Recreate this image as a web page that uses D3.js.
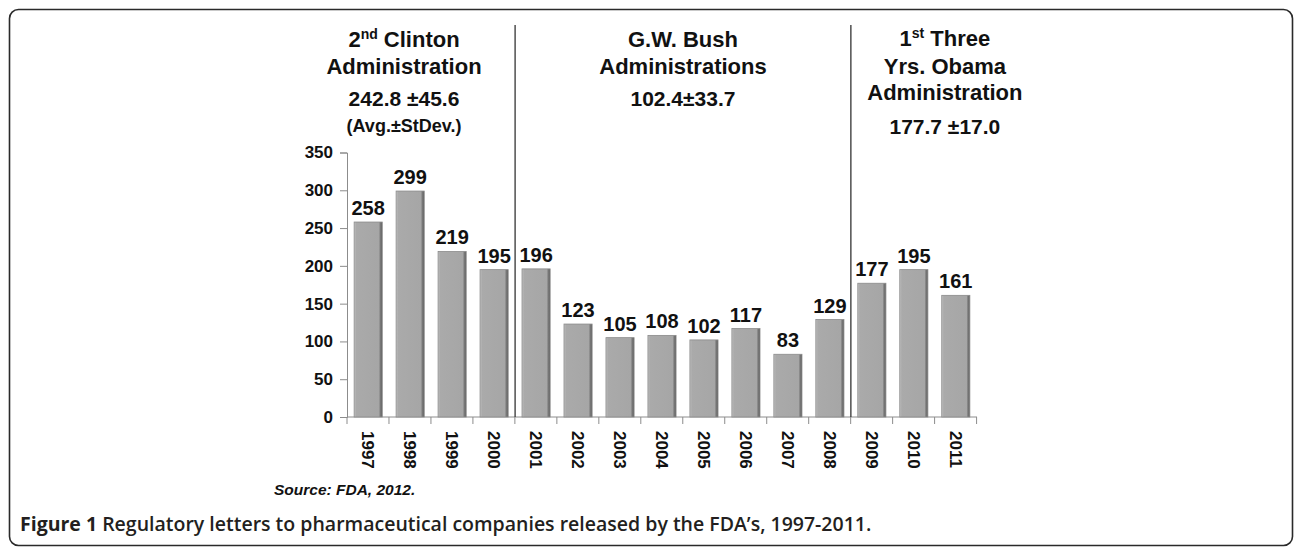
<!DOCTYPE html>
<html>
<head>
<meta charset="utf-8">
<script src="https://cdn.jsdelivr.net/npm/d3@7"></script>
<style>
    body { margin: 0; background: #fff; }
    text { font-family: "Liberation Sans", Arial, sans-serif; }
</style>
</head>
<body>
<div id="chart"></div>
<script>
// data
const years = ["1997", "1998", "1999", "2000", "2001", "2002", "2003", "2004",
    "2005", "2006", "2007", "2008", "2009", "2010", "2011"];
const letters = [258, 299, 219, 195, 196, 123, 105, 108, 102, 117, 83, 129, 177, 195, 161];
const yTicks = [0, 50, 100, 150, 200, 250, 300, 350];
// year where each administration starts (divider goes before it)
const dividers = ["2001", "2009"];
const clintonLines = ["Administration", "242.8 ±45.6", "(Avg.±StDev.)"];
const bushLines = ["G.W. Bush", "Administrations", "102.4±33.7"];
const obamaLines = ["Yrs. Obama", "Administration", "177.7 ±17.0"];
const sourceNote = "Source: FDA, 2012.";
const captionBold = "Figure 1";
const captionText = " Regulatory letters to pharmaceutical companies released by the FDA\u2019s, 1997-2011.";

const W = 1295, H = 551;
const plot = { left: 347, right: 977, top: 152.5, bottom: 417 };

const svg = d3.select("#chart").append("svg")
    .attr("width", W)
    .attr("height", H);

// outer frame
svg.append("rect")
    .attr("x", 9.5).attr("y", 9.5)
    .attr("width", 1283).attr("height", 536)
    .attr("rx", 9)
    .attr("fill", "none")
    .attr("stroke", "#2a2a2a")
    .attr("stroke-width", 1.6);

const x = d3.scaleBand()
    .domain(years)
    .range([plot.left, plot.right])
    .paddingInner(0.33)
    .paddingOuter(0.17);

const y = d3.scaleLinear()
    .domain([0, 350])
    .range([plot.bottom, plot.top]);

// bar shading, lighter left edge and darker right edge
const grad = svg.append("defs").append("linearGradient")
    .attr("id", "barGrad")
    .attr("x1", "0").attr("x2", "1").attr("y1", "0").attr("y2", "0");
grad.append("stop").attr("offset", "0").attr("stop-color", "#c4c4c4");
grad.append("stop").attr("offset", "0.07").attr("stop-color", "#aaaaaa");
grad.append("stop").attr("offset", "0.88").attr("stop-color", "#a6a6a6");
grad.append("stop").attr("offset", "0.93").attr("stop-color", "#7a7a7a");
grad.append("stop").attr("offset", "1").attr("stop-color", "#5e5e5e");

// y axis
const yAxis = svg.append("g")
    .attr("transform", "translate(" + plot.left + ",0)")
    .call(d3.axisLeft(y).tickValues(yTicks).tickSize(7).tickPadding(7));
yAxis.select(".domain").attr("stroke", "#8c8c8c");
yAxis.selectAll(".tick line").attr("stroke", "#8c8c8c");
yAxis.selectAll(".tick text")
    .attr("fill", "#111")
    .style("font-size", "17px")
    .style("font-weight", "bold");

// x axis line + boundary ticks
const step = x.step();
const boundaries = d3.range(years.length + 1).map((i) => plot.left + i * step);
svg.append("line")
    .attr("x1", plot.left).attr("x2", plot.right)
    .attr("y1", plot.bottom).attr("y2", plot.bottom)
    .attr("stroke", "#8c8c8c");
svg.selectAll(".xtick")
    .data(boundaries)
    .enter()
    .append("line")
    .attr("class", "xtick")
    .attr("x1", (d) => d).attr("x2", (d) => d)
    .attr("y1", plot.bottom).attr("y2", plot.bottom + 7)
    .attr("stroke", "#8c8c8c");

// year labels, rotated
svg.selectAll(".year")
    .data(years)
    .enter()
    .append("text")
    .attr("class", "year")
    .attr("transform", (d) => "translate(" + (x(d) + x.bandwidth() / 2) + "," + (plot.bottom + 14) + ") rotate(90)")
    .attr("dy", "0.35em")
    .attr("fill", "#111")
    .style("font-size", "17px")
    .style("font-weight", "bold")
    .text((d) => d);

// bars
svg.selectAll(".bar")
    .data(letters)
    .enter()
    .append("rect")
    .attr("class", "bar")
    .attr("x", (d, i) => x(years[i]))
    .attr("y", (d) => y(d))
    .attr("width", x.bandwidth())
    .attr("height", (d) => y(0) - y(d))
    .attr("fill", "url(#barGrad)")
    .attr("stroke", "#8a8a8a")
    .attr("stroke-width", 0.8);

// value labels
svg.selectAll(".val")
    .data(letters)
    .enter()
    .append("text")
    .attr("class", "val")
    .attr("x", (d, i) => x(years[i]) + x.bandwidth() / 2)
    .attr("y", (d) => y(d) - 7)
    .attr("text-anchor", "middle")
    .attr("fill", "#111")
    .style("font-size", "20px")
    .style("font-weight", "bold")
    .text((d) => d);

// administration dividers
const divX = dividers.map((d) => x(d) - x.step() * x.paddingInner() / 2);
svg.selectAll(".divider")
    .data(divX)
    .enter()
    .append("line")
    .attr("class", "divider")
    .attr("x1", (d) => d).attr("x2", (d) => d)
    .attr("y1", 25).attr("y2", plot.bottom)
    .attr("stroke", "#333")
    .attr("stroke-width", 1.3);

// headings
function heading(cx, firstY, lines, gaps, sizes) {
    let yy = firstY;
    lines.forEach((t, i) => {
        yy += gaps[i];
        svg.append("text")
            .attr("x", cx)
            .attr("y", yy)
            .attr("text-anchor", "middle")
            .attr("fill", "#111")
            .style("font-size", sizes[i] + "px")
            .style("font-weight", "bold")
            .text(t);
    });
}

function supHeading(cx, yy, num, sup, rest) {
    const t = svg.append("text")
        .attr("x", cx)
        .attr("y", yy)
        .attr("text-anchor", "middle")
        .attr("fill", "#111")
        .style("font-size", "22px")
        .style("font-weight", "bold");
    t.append("tspan").text(num);
    t.append("tspan").attr("dy", -8).style("font-size", "14px").text(sup);
    t.append("tspan").attr("dy", 8).text(rest);
}

const clintonX = plot.left + 57;
const bushX = (divX[0] + divX[1]) / 2;
const obamaX = divX[1] + 94;

supHeading(clintonX, 47, "2", "nd", " Clinton");
heading(clintonX, 47, clintonLines, [27, 32, 26], [22, 21, 18]);

heading(bushX, 20, bushLines, [27, 27, 32], [22, 22, 21]);

supHeading(obamaX, 46, "1", "st", " Three");
heading(obamaX, 46, obamaLines, [28, 26, 34], [22, 22, 21]);

// source note
svg.append("text")
    .attr("x", 274)
    .attr("y", 495)
    .attr("fill", "#111")
    .style("font-size", "15.5px")
    .style("font-weight", "bold")
    .style("font-style", "italic")
    .text(sourceNote);

// caption
const cap = svg.append("text")
    .attr("x", 20)
    .attr("y", 531)
    .attr("fill", "#231f20")
    .style("font-family", "'Open Sans', 'Noto Sans', sans-serif")
    .style("font-size", "19.5px");
cap.append("tspan").style("font-weight", "bold").text(captionBold);
cap.append("tspan").style("font-weight", "600").text(captionText);
</script>
</body>
</html>
